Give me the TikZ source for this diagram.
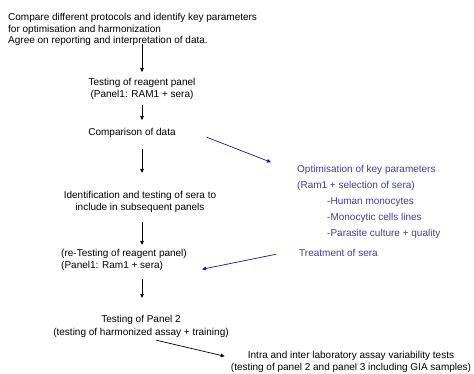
\documentclass[tikz,border=0pt]{standalone}
\usepackage{fontspec}
\setmainfont{Liberation Sans}
\usetikzlibrary{arrows.meta}
\definecolor{bluetxt}{RGB}{60,60,180}
\definecolor{bluearr}{RGB}{20,20,170}
\tikzset{
  txt/.style={inner sep=0pt, font=\fontsize{10}{12}\selectfont, align=center},
  btxt/.style={inner sep=0pt, font=\fontsize{10}{16}\selectfont, align=left, text=bluetxt},
  arr/.style={line width=0.7pt, -{Triangle[length=4pt,width=3.5pt]}},
  barr/.style={line width=0.7pt, draw=bluearr, -{Triangle[length=4pt,width=3.5pt]}}
}
\begin{document}
\begin{tikzpicture}[x=1pt,y=-1pt]
\useasboundingbox (0,0) rectangle (474,374);
\node[txt, align=left, font=\fontsize{10}{11.5}\selectfont, anchor=north west] (top) at (8,13.4)
  {Compare different protocols and identify key parameters\\for optimisation and harmonization\\Agree on reporting and interpretation of data.};
\node[txt, anchor=north] (t1) at (142,78.4) {Testing of reagent panel\\(Panel1: RAM1 + sera)};
\node[txt, anchor=north] (comp) at (132,128.4) {Comparison of data};
\node[txt, anchor=north] (ident) at (140,191.4) {Identification and testing of sera to\\include in subsequent panels};
\node[txt, align=left, anchor=north west] (retest) at (61,249.4) {(re-Testing of reagent panel)\\(Panel1: Ram1 + sera)};
\node[txt, font=\fontsize{10}{13}\selectfont, anchor=north] (p2) at (141,315.4) {Testing of Panel 2\\(testing of harmonized assay + training)};
\node[txt, anchor=north] (intra) at (351,351.4) {Intra and inter laboratory assay variability tests\\(testing of panel 2 and panel 3 including GIA samples)};
\node[btxt, anchor=north west] (opt) at (297,165.4) {Optimisation of key parameters\\(Ram1 + selection of sera)};
\node[btxt, anchor=north west] (list) at (327,197.4) {-Human monocytes\\-Monocytic cells lines\\-Parasite culture + quality};
\node[btxt, anchor=north west] (treat) at (299,249.4) {Treatment of sera};

\draw[arr, shorten <=-2.5pt, shorten >=6.4pt] (top.south -| t1.north) -- (t1.north);
\draw[arr, shorten <=5.3pt, shorten >=8.4pt] (t1.south) -- (t1.south |- comp.north);
\draw[arr, shorten <=11.3pt, shorten >=18.4pt] (t1.south |- comp.south) -- (t1.south |- ident.north);
\draw[arr, shorten <=9.3pt, shorten >=4.4pt] (t1.south |- ident.south) -- (t1.south |- retest.north);
\draw[arr, shorten <=8.3pt, shorten >=17.4pt] (t1.south |- retest.south) -- (t1.south |- p2.north);
\draw[arr] ([shift={(15,2)}]p2.south) -- ([shift={(-6,-6)}]intra.west);
\draw[barr] ([shift={(31,4)}]comp.east) -- ([shift={(-26,-16)}]opt.west);
\draw[barr] ([shift={(-23,1)}]treat.west) -- ([shift={(15,9)}]retest.east);
\end{tikzpicture}
\end{document}
